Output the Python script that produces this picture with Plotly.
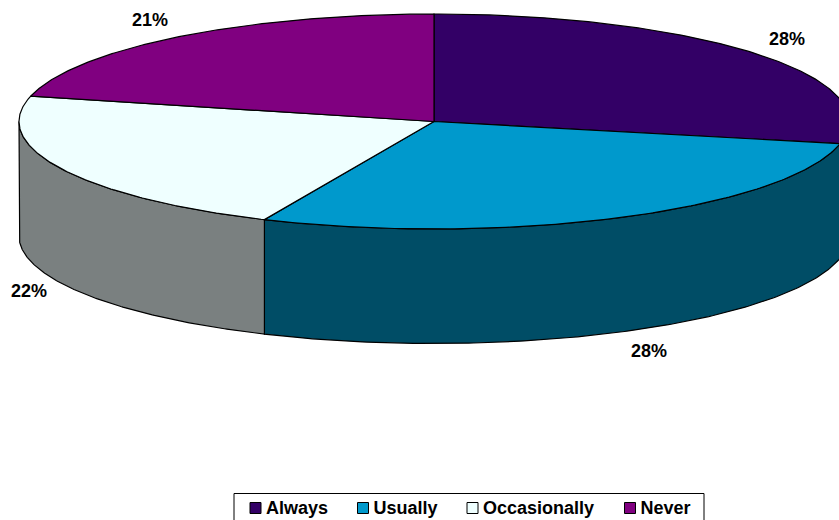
import numpy as np
import plotly.graph_objects as go

categories = ["Always", "Usually", "Occasionally", "Never"]
values = [28.3, 28.4, 22.1, 21.2]
labels = ["28%", "28%", "22%", "21%"]
top_colors = ["#330066", "#0099CC", "#EFFFFF", "#800080"]
side_colors = ["#2A0055", "#004D66", "#7A8080", "#5A005A"]
label_x = [787, 649, 29, 150]
label_y = [40, 352, 292, 21]
legend_x = [255.5, 363, 472.5, 630]
legend_text_x = [266, 373.5, 483, 640.5]
LEGEND_Y = 508

CX, CY, RX, RY, DEPTH = 434, 121.5, 415, 107.5, 114.5
total = sum(values)
edges = np.concatenate([[0], np.cumsum(values)]) / total * 2 * np.pi


def rim(a0, a1, n=160):
    t = np.linspace(a0, a1, n)
    return CX + RX * np.sin(t), CY - RY * np.cos(t)


fig = go.Figure()

# Outer walls (only the front half of the disc is visible)
for i, c in enumerate(categories):
    a0, a1 = max(edges[i], np.pi / 2), min(edges[i + 1], 3 * np.pi / 2)
    if a1 <= a0:
        continue
    x, y = rim(a0, a1)
    fig.add_trace(go.Scatter(
        x=np.concatenate([x, x[::-1], x[:1]]),
        y=np.concatenate([y, y[::-1] + DEPTH, y[:1]]),
        mode="lines", fill="toself", fillcolor=side_colors[i],
        line=dict(color="black", width=1.2), hoverinfo="skip", showlegend=False,
    ))

# Top faces
for i, c in enumerate(categories):
    x, y = rim(edges[i], edges[i + 1])
    fig.add_trace(go.Scatter(
        x=np.concatenate([[CX], x, [CX]]),
        y=np.concatenate([[CY], y, [CY]]),
        mode="lines", fill="toself", fillcolor=top_colors[i],
        line=dict(color="black", width=1.2), name=c, showlegend=False,
    ))

# Percentage labels
fig.add_trace(go.Scatter(
    x=label_x, y=label_y, mode="text", text=labels, showlegend=False,
    textfont=dict(family="Liberation Sans", size=18, color="black", weight="bold"),
    hoverinfo="skip",
))

# Legend row: the reference packs swatch and text tighter than a native legend allows
fig.add_trace(go.Scatter(
    x=legend_x, y=[LEGEND_Y] * 4, mode="markers", showlegend=False, hoverinfo="skip",
    marker=dict(symbol="square", size=11, color=top_colors,
                line=dict(color="black", width=1)),
))
fig.add_trace(go.Scatter(
    x=legend_text_x, y=[LEGEND_Y + 1.5] * 4, mode="text", text=categories,
    textposition="middle right", showlegend=False, hoverinfo="skip",
    textfont=dict(family="Liberation Sans", size=18, color="black", weight="bold"),
))

fig.update_layout(
    width=839, height=520, autosize=False,
    margin=dict(l=0, r=0, t=0, b=0),
    paper_bgcolor="white", plot_bgcolor="white",
    xaxis=dict(range=[0, 839], visible=False),
    yaxis=dict(range=[520, 0], visible=False),
    showlegend=False,
    shapes=[dict(type="rect", xref="x", yref="y", x0=234, x1=704, y0=493.5, y1=530,
                 line=dict(color="black", width=1), fillcolor="white", layer="below")],
)

fig.write_html("out.html", config={"displayModeBar": False},
               post_script="document.body.style.margin='0';document.documentElement.style.overflow='hidden';")
